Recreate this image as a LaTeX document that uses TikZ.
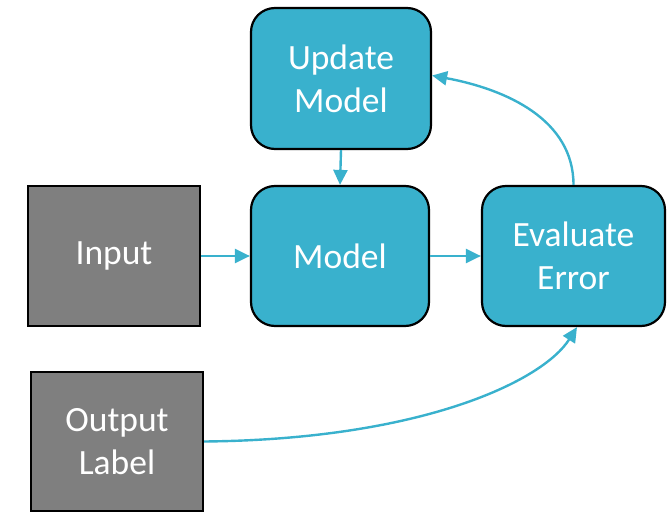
\documentclass[tikz,border=0pt]{standalone}
\usepackage{fontspec}
\setmainfont{Carlito}
\usetikzlibrary{arrows.meta}
\definecolor{teal}{HTML}{39B1CD}
\definecolor{boxgray}{HTML}{7F7F7F}
\begin{document}
\begin{tikzpicture}[x=1pt,y=-1pt,
  base/.style={draw=black,line width=2.2pt,text=white,inner sep=0pt,align=center,
    font=\fontsize{35.5}{43}\selectfont},
  proc/.style={base,fill=teal,rounded corners=24pt},
  inbox/.style={base,fill=boxgray},
  conn/.style={draw=teal,line width=2.4pt,-{Triangle[length=15pt,width=14pt]}}]
\useasboundingbox (0,0) rectangle (667,514);
\node[proc,minimum width=180pt,minimum height=141pt] (up) at (341,78.5) {Update\\Model};
\node[inbox,minimum width=172pt,minimum height=140pt] (in) at (114,256) {\raisebox{-3pt}{Input}};
\node[proc,minimum width=178pt,minimum height=140pt] (mo) at (340,256) {\raisebox{-3pt}{Model}};
\node[proc,minimum width=183pt,minimum height=140pt] (ev) at (573.5,256) {Evaluate\\Error};
\node[inbox,minimum width=172pt,minimum height=139pt] (out) at (117,441.5) {Output\\Label};
\draw[conn] (in.east) -- (mo.west);
\draw[conn] (mo.east) -- (ev.west);
\draw[conn] (up.south) -- (mo.north);
\draw[conn] (ev.north) .. controls ++(0,-65) and ++(75,14) .. ([yshift=3pt]up.east);
\draw[conn] (out.east) .. controls ++(215,-2) and ++(-35,55) .. ([xshift=3.5pt]ev.south);
\end{tikzpicture}
\end{document}
